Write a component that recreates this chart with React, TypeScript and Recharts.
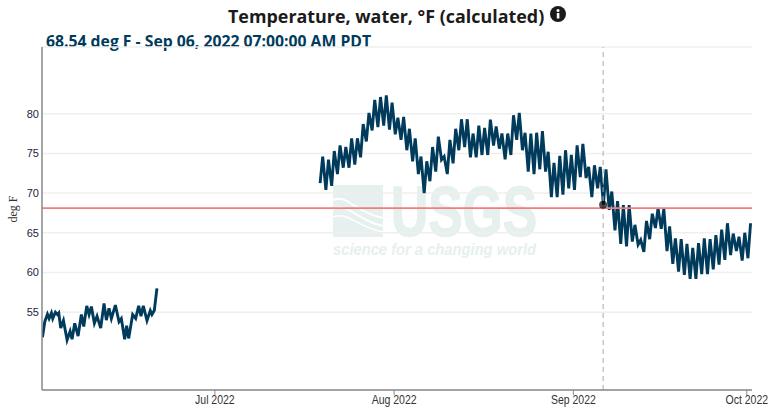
import { Line, LineChart, ReferenceDot, ReferenceLine, CartesianGrid, XAxis, YAxis } from "recharts";

// days since Jun 1 2022
const earlyDays = [
  0.18, 0.58, 1.04, 1.33, 1.73, 1.96, 2.42, 2.77, 3.0, 3.34, 3.81, 4.44, 4.96, 5.3, 5.76, 6.34, 6.91, 7.32, 7.84, 8.24,
  8.64, 9.16, 9.62, 10.25, 10.83, 11.23, 11.69, 12.1, 12.79, 13.42, 13.82, 14.4, 14.74, 15.09, 15.78, 16.3, 16.82,
  17.22, 17.62, 18.26, 18.83, 19.12, 19.52, 19.98,
];
const earlyTemps = [
  51.85, 53.8, 54.75, 54.2, 54.9, 54.2, 55, 54.7, 54.9, 53, 53.95, 51.5, 52.6, 51.6, 53.6, 52, 54.7, 53.2, 55.8, 54.7,
  55.7, 53.6, 54.5, 53, 56.1, 54, 55.5, 54.2, 55.9, 53.8, 54.2, 51.6, 53.3, 51.7, 54.7, 54.2, 55.8, 54.5, 55.8, 53.95,
  55.2, 54.7, 55.2, 58,
];

// daily morning lows and afternoon highs, Jul 19 to Oct 1
const firstDay = 48;
const dailyLows = [
  71.25, 70.4, 70.9, 72.4, 73.2, 73.2, 73.6, 74.5, 76.5, 77.9, 78.3, 78.5, 78, 77.4, 76.7, 75.4, 74, 72.4, 70, 71.5,
  72.7, 74.2, 72.4, 73.75, 75.4, 75.8, 74.5, 74.5, 74.8, 74.8, 76, 75.6, 74.25, 74.8, 76.7, 75.4, 72.7, 72.4, 73, 72.7,
  69.5, 69.5, 69.8, 70.6, 70.4, 72, 71.9, 69.5, 70.6, 68.54, 67.9, 65.3, 63.6, 63.3, 63.9, 63.5, 62.6, 64.2, 65.6, 65.5,
  62.7, 61.1, 60.1, 59.7, 59.2, 59.2, 59.8, 59.8, 60.4, 61, 61.6, 62.2, 62.7, 61.5, 61.8,
];
const dailyHighs = [
  74.6, 74.2, 75.3, 76, 75.8, 76.9, 76.9, 78.7, 80.1, 81.75, 82.1, 82.3, 81.4, 79.5, 79.6, 78.1, 76.9, 74.6, 74, 75.8,
  77.1, 74.6, 76.7, 78.1, 79.3, 79.3, 77.5, 78.5, 78.2, 79.25, 78.4, 77.5, 77.5, 79.8, 80.1, 77.6, 77.5, 77.6, 77.8,
  75.2, 73.8, 74.7, 75.4, 74.8, 76, 76.2, 73.3, 73.5, 73.3, 73, 70.2, 69, 68.5, 68.5, 66, 64.1, 66.5, 67.4, 68.1, 68,
  65.8, 64.3, 64.2, 63.6, 63.1, 63.7, 64.3, 64.2, 64.7, 65.4, 66.2, 64.9, 64.5, 65, 66.2,
];

const xTicks = [30, 61, 92, 122];
const xTickLabels = ["Jul 2022", "Aug 2022", "Sep 2022", "Oct 2022"];
const yTicks = [55, 60, 65, 70, 75, 80];

const thresholdTemp = 68.1;
const cursorDay = 97.15;
const cursorTemp = 68.54;

const earlyData = earlyDays.map((day, i) => ({ day, temp: earlyTemps[i] }));
const lateData = dailyLows.flatMap((low, i) => [
  { day: firstDay + i + 0.2, temp: low },
  { day: firstDay + i + 0.65, temp: dailyHighs[i] },
]);

// the original tick labels are a squeezed Arial, and the narrow face isn't installed
const MonthTick = ({ x, y, payload }: { x: number; y: number; payload: { value: number } }) => (
  <text
    transform={`translate(${x},${y + 9}) scale(0.84,1)`}
    textAnchor="middle"
    fontFamily="Liberation Sans"
    fontSize={12.5}
    fill="#333"
  >
    {xTickLabels[xTicks.indexOf(payload.value)]}
  </text>
);

const Watermark = () => (
  <svg width={768} height={409} style={{ position: "absolute", left: 0, top: 0 }}>
    <rect x={333} y={185} width={50} height={52} fill="#e6f0ee" />
    <path d="M333 200 C348 194 354 212 383 218" stroke="#fff" strokeWidth={2} fill="none" />
    <path d="M333 209 C348 202 356 220 383 226" stroke="#fff" strokeWidth={2} fill="none" />
    <path d="M333 217 C348 211 358 228 383 232" stroke="#fff" strokeWidth={1.5} fill="none" />
    <text
      x={391}
      y={236}
      fontFamily="Liberation Sans"
      fontWeight={700}
      fontSize={70}
      fill="#e6f0ee"
      stroke="#e6f0ee"
      strokeWidth={1.5}
      textLength={146}
      lengthAdjust="spacingAndGlyphs"
    >
      USGS
    </text>
    <text
      x={333}
      y={255}
      fontFamily="Liberation Sans"
      fontWeight={700}
      fontStyle="italic"
      fontSize={17}
      fill="#e6f0ee"
      textLength={203}
      lengthAdjust="spacingAndGlyphs"
    >
      science for a changing world
    </text>
  </svg>
);

const App = () => {
  return (
    <div style={{ position: "absolute", left: 0, top: 0, width: 768, height: 409, overflow: "hidden", background: "#fff" }}>
      <Watermark />
      <div
        style={{
          position: "absolute",
          left: 228,
          top: 2,
          whiteSpace: "nowrap",
          fontFamily: "Open Sans",
          fontWeight: 700,
          fontSize: 17.9,
          lineHeight: "28px",
          color: "#1b1b1b",
        }}
      >
        Temperature, water, °F (calculated)
      </div>
      <svg width={20} height={20} style={{ position: "absolute", left: 548, top: 4 }}>
        <circle cx={10} cy={10} r={8} fill="#1b1b1b" />
        <rect x={8.8} y={9} width={2.6} height={5.5} fill="#fff" />
        <circle cx={10} cy={6.5} r={1.5} fill="#fff" />
      </svg>
      <div
        style={{
          position: "absolute",
          left: 46,
          top: 29,
          whiteSpace: "nowrap",
          fontFamily: "Open Sans",
          fontWeight: 700,
          fontSize: 15.75,
          lineHeight: "24px",
          color: "#003b5c",
        }}
      >
        68.54 deg F - Sep 06, 2022 07:00:00 AM PDT
      </div>
      <div style={{ position: "absolute", left: 0, top: 0 }}>
        <LineChart width={768} height={409} margin={{ top: 47, right: 16, bottom: 0, left: 0 }}>
          <CartesianGrid horizontal vertical={false} stroke="#efefef" strokeWidth={1.5} />
          <XAxis
            dataKey="day"
            type="number"
            domain={[0.1, 122.9]}
            ticks={xTicks}
            interval={0}
            allowDataOverflow
            height={19}
            tickSize={5}
            tickMargin={0}
            tick={MonthTick}
            axisLine={{ stroke: "#888", strokeWidth: 1.5 }}
            tickLine={{ stroke: "#888" }}
          />
          <YAxis
            type="number"
            domain={[45.2, 88.4]}
            ticks={yTicks}
            interval={0}
            allowDataOverflow
            width={42}
            tickLine={false}
            tickSize={0}
            tickMargin={3}
            tick={{ fontFamily: "Liberation Sans", fontSize: 11, fill: "#1c2440" }}
            axisLine={{ stroke: "#888", strokeWidth: 1.5 }}
            label={{
              value: "deg F",
              angle: -90,
              position: "insideLeft",
              dx: 8,
              dy: 4,
              style: { fontFamily: "Liberation Serif", fontSize: 12, fill: "#333" },
            }}
          />
          <Line
            data={earlyData}
            dataKey="temp"
            type="linear"
            dot={false}
            stroke="#003b5c"
            strokeWidth={2.9}
            isAnimationActive={false}
          />
          <Line
            data={lateData}
            dataKey="temp"
            type="linear"
            dot={false}
            stroke="#003b5c"
            strokeWidth={2.9}
            isAnimationActive={false}
          />
          <ReferenceLine y={thresholdTemp} stroke="#f47c7c" strokeWidth={1.8} />
          <ReferenceLine x={cursorDay} stroke="#aaa" strokeDasharray="5 4" />
          <ReferenceDot x={cursorDay} y={cursorTemp} r={4} fill="#000" fillOpacity={0.7} stroke="none" />
        </LineChart>
      </div>
    </div>
  );
};

export default App;
